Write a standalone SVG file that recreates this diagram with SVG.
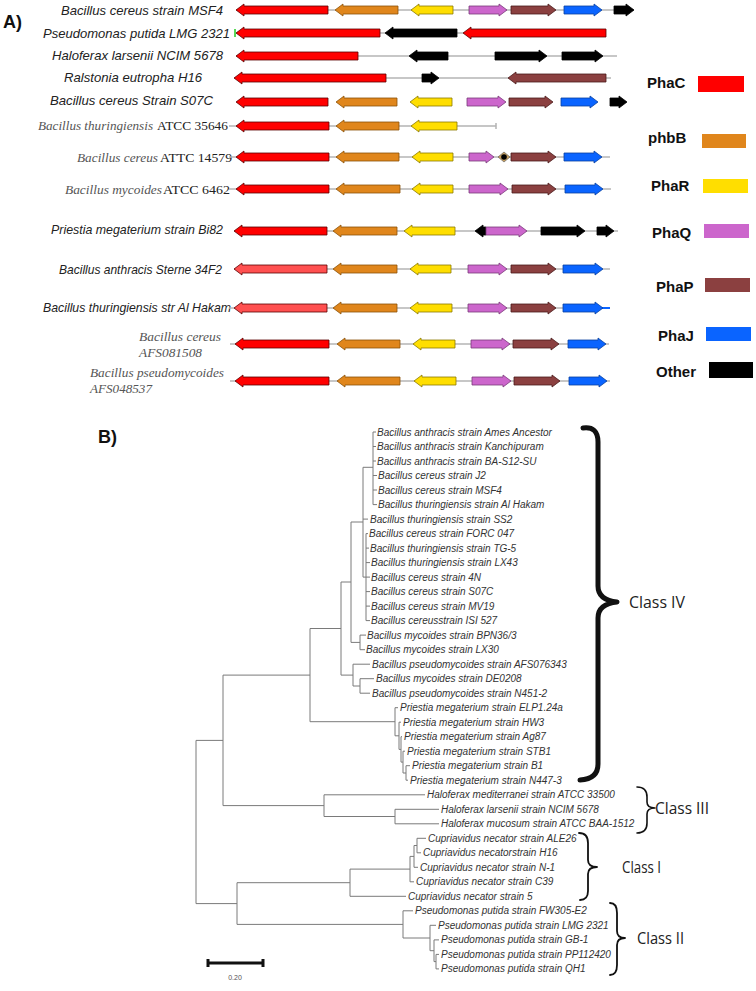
<svg xmlns="http://www.w3.org/2000/svg" width="756" height="991" viewBox="0 0 756 991">
<style>
.gl{font-family:"Liberation Sans",Arial,sans-serif;font-style:italic;font-size:13px;fill:#222}
.si{font-family:"Liberation Serif","Times New Roman",serif;font-style:italic;font-size:13.5px;fill:#555}
.sr{font-family:"Liberation Serif","Times New Roman",serif;font-size:13.5px;fill:#222}
.lg{font-family:"Liberation Sans",Arial,sans-serif;font-weight:bold;font-size:15px;fill:#111}
.pl{font-family:"Liberation Sans",Arial,sans-serif;font-weight:bold;font-size:18px;fill:#111}
.tl{font-family:"Liberation Sans",Arial,sans-serif;font-style:italic;font-size:10px;fill:#333}
.cl{font-family:"Open Sans","Liberation Sans",sans-serif;font-size:17px;fill:#222}
.ln{stroke:#b4b4b4;stroke-width:1.5;fill:none}
.r{fill:#ff0000;stroke:#5a0000;stroke-width:0.8}
.rl{fill:#ff5050;stroke:#5a0000;stroke-width:0.8}
.o{fill:#e0861c;stroke:#8a5208;stroke-width:0.8}
.y{fill:#ffde00;stroke:#8a7a00;stroke-width:0.8}
.p{fill:#cc66cc;stroke:#7a3a7a;stroke-width:0.8}
.b{fill:#8b4040;stroke:#4a1a1a;stroke-width:0.8}
.j{fill:#0a64ff;stroke:#0840a0;stroke-width:0.8}
.k{fill:#000;stroke:#000;stroke-width:0.8}
.tr{stroke:#7a7a7a;stroke-width:1;fill:none}
.br{stroke:#111;fill:none;stroke-linecap:round;stroke-linejoin:round}
</style>
<rect width="756" height="991" fill="#fff"/>
<text class="pl" x="3" y="28">A)</text>
<text class="pl" x="98" y="443">B)</text>

<g id="row1">
<text class="gl" x="61" y="14.5" textLength="162" lengthAdjust="spacingAndGlyphs">Bacillus cereus strain MSF4</text>
<path class="ln" d="M236 10H634"/>
<path class="r" d="M236 10l8-6v2h84v8h-84v2z"/>
<path class="o" d="M335 10l8-6v2h55v8h-55v2z"/>
<path class="y" d="M411 10l8-6v2h34v8h-34v2z"/>
<path class="p" d="M469 6h30v-2l8 6-8 6v-2h-30z"/>
<path class="b" d="M511 6h37v-2l8 6-8 6v-2h-37z"/>
<path class="j" d="M564 6h30v-2l8 6-8 6v-2h-30z"/>
<path class="k" d="M614 6h12v-2l8 6-8 6v-2h-12z"/>
</g>
<g id="row2">
<text class="gl" x="43" y="37.5" textLength="187" lengthAdjust="spacingAndGlyphs">Pseudomonas putida LMG 2321</text>
<path class="ln" d="M236 33H606"/>
<path d="M235 29V37" stroke="#22cc22" stroke-width="1.5"/>
<path class="r" d="M236 33l8-6v2h136v8h-136v2z"/>
<path class="k" d="M385 33l8-6v2h64v8h-64v2z"/>
<path class="r" d="M463 33l8-6v2h135v8h-135v2z"/>
</g>
<g id="row3">
<text class="gl" x="52" y="59.5" textLength="171" lengthAdjust="spacingAndGlyphs">Haloferax larsenii NCIM 5678</text>
<path class="ln" d="M236 56H617"/>
<path class="r" d="M236 56l8-6v2h114v8h-114v2z"/>
<path class="k" d="M409 56l8-6v2h31v8h-31v2z"/>
<path class="k" d="M495 52h44v-2l8 6-8 6v-2h-44z"/>
<path class="k" d="M562 52h33v-2l8 6-8 6v-2h-33z"/>
</g>
<g id="row4">
<text class="gl" x="64" y="81.5" textLength="138" lengthAdjust="spacingAndGlyphs">Ralstonia eutropha H16</text>
<path class="ln" d="M234 78H611"/>
<path class="r" d="M234 78l8-6v2h144v8h-144v2z"/>
<path class="k" d="M422 74h9v-2l8 6-8 6v-2h-9z"/>
<path class="b" d="M508 78l8-6v2h90v8h-90v2z"/>
</g>
<g id="row5">
<text class="gl" x="50" y="104.5" textLength="163" lengthAdjust="spacingAndGlyphs">Bacillus cereus Strain S07C</text>
<path class="r" d="M236 102l8-6v2h84v8h-84v2z"/>
<path class="o" d="M336 102l8-6v2h53v8h-53v2z"/>
<path class="y" d="M410 102l8-6v2h34v8h-34v2z"/>
<path class="p" d="M467 98h31v-2l8 6-8 6v-2h-31z"/>
<path class="b" d="M509 98h36v-2l8 6-8 6v-2h-36z"/>
<path class="j" d="M561 98h29v-2l8 6-8 6v-2h-29z"/>
<path class="k" d="M610 98h9v-2l8 6-8 6v-2h-9z"/>
</g>
<g id="row6">
<text class="si" x="38" y="129.5" textLength="115" lengthAdjust="spacingAndGlyphs">Bacillus thuringiensis</text>
<text class="sr" x="157" y="129.5" textLength="71" lengthAdjust="spacingAndGlyphs">ATCC 35646</text>
<path class="ln" d="M229 126H496M496 123V129"/>
<path class="r" d="M236 126l8-6v2h85v8h-85v2z"/>
<path class="o" d="M336 126l8-6v2h55v8h-55v2z"/>
<path class="y" d="M411 126l8-6v2h38v8h-38v2z"/>
</g>
<g id="row7">
<text class="si" x="77" y="161.5" textLength="81" lengthAdjust="spacingAndGlyphs">Bacillus cereus</text>
<text class="sr" x="160" y="161.5" textLength="72" lengthAdjust="spacingAndGlyphs">ATTC 14579</text>
<path class="ln" d="M229 157H610"/>
<path class="r" d="M236 157l8-6v2h85v8h-85v2z"/>
<path class="o" d="M336 157l8-6v2h55v8h-55v2z"/>
<path class="y" d="M412 157l8-6v2h33v8h-33v2z"/>
<path class="p" d="M469 153h17v-2l8 6-8 6v-2h-17z"/>
<path d="M498 157l6-5 6 5-6 5z" fill="#c8a060" stroke="#555" stroke-width="0.6"/>
<circle cx="504" cy="157" r="2.8" fill="#000"/>
<path class="b" d="M511 153h37v-2l8 6-8 6v-2h-37z"/>
<path class="j" d="M564 153h30v-2l8 6-8 6v-2h-30z"/>
</g>
<g id="row8">
<text class="si" x="65" y="193.5" textLength="97" lengthAdjust="spacingAndGlyphs">Bacillus mycoides</text>
<text class="sr" x="163" y="193.5" textLength="67" lengthAdjust="spacingAndGlyphs">ATCC 6462</text>
<path class="ln" d="M229 189H611"/>
<path class="r" d="M236 189l8-6v2h85v8h-85v2z"/>
<path class="o" d="M336 189l8-6v2h56v8h-56v2z"/>
<path class="y" d="M412 189l8-6v2h33v8h-33v2z"/>
<path class="p" d="M469 185h31v-2l8 6-8 6v-2h-31z"/>
<path class="b" d="M512 185h36v-2l8 6-8 6v-2h-36z"/>
<path class="j" d="M565 185h30v-2l8 6-8 6v-2h-30z"/>
</g>
<g id="row9">
<text class="gl" x="51" y="234" textLength="172" lengthAdjust="spacingAndGlyphs">Priestia megaterium strain Bi82</text>
<path class="ln" d="M234 231H618"/>
<path class="r" d="M234 231l8-6v2h85v8h-85v2z"/>
<path class="o" d="M333 231l8-6v2h56v8h-56v2z"/>
<path class="y" d="M404 231l8-6v2h43v8h-43v2z"/>
<path class="k" d="M475 231l8-6v2h3v8h-3v2z"/>
<path class="p" d="M486 227h33v-2l8 6-8 6v-2h-33z"/>
<path class="k" d="M541 227h36v-2l8 6-8 6v-2h-36z"/>
<path class="k" d="M597 227h9v-2l8 6-8 6v-2h-9z"/>
</g>
<g id="row10">
<text class="gl" x="59" y="274" textLength="163" lengthAdjust="spacingAndGlyphs">Bacillus anthracis Sterne 34F2</text>
<path class="ln" d="M234 269H610"/>
<path class="rl" d="M234 269l8-6v2h85v8h-85v2z"/>
<path class="o" d="M333 269l8-6v2h56v8h-56v2z"/>
<path class="y" d="M410 269l8-6v2h33v8h-33v2z"/>
<path class="p" d="M468 265h31v-2l8 6-8 6v-2h-31z"/>
<path class="b" d="M511 265h37v-2l8 6-8 6v-2h-37z"/>
<path class="j" d="M563 265h32v-2l8 6-8 6v-2h-32z"/>
</g>
<g id="row11">
<text class="gl" x="43" y="312" textLength="188" lengthAdjust="spacingAndGlyphs">Bacillus thuringiensis str Al Hakam</text>
<path class="ln" d="M229 308H603"/>
<path d="M600 308H610" stroke="#0a64ff" stroke-width="2"/>
<path class="rl" d="M234 308l8-6v2h85v8h-85v2z"/>
<path class="o" d="M333 308l8-6v2h56v8h-56v2z"/>
<path class="y" d="M410 308l8-6v2h34v8h-34v2z"/>
<path class="p" d="M468 304h31v-2l8 6-8 6v-2h-31z"/>
<path class="b" d="M511 304h37v-2l8 6-8 6v-2h-37z"/>
<path class="j" d="M563 304h32v-2l8 6-8 6v-2h-32z"/>
</g>
<g id="row12">
<text class="si" x="139" y="341" textLength="82" lengthAdjust="spacingAndGlyphs">Bacillus cereus</text>
<text class="si" x="139" y="357" textLength="63" lengthAdjust="spacingAndGlyphs">AFS081508</text>
<path class="ln" d="M230 344H609"/>
<path class="r" d="M235 344l8-6v2h86v8h-86v2z"/>
<path class="o" d="M337 344l8-6v2h55v8h-55v2z"/>
<path class="y" d="M413 344l8-6v2h34v8h-34v2z"/>
<path class="p" d="M471 340h31v-2l8 6-8 6v-2h-31z"/>
<path class="b" d="M513 340h38v-2l8 6-8 6v-2h-38z"/>
<path class="j" d="M568 340h30v-2l8 6-8 6v-2h-30z"/>
</g>
<g id="row13">
<text class="si" x="90" y="377" textLength="134" lengthAdjust="spacingAndGlyphs">Bacillus pseudomycoides</text>
<text class="si" x="90" y="393" textLength="62" lengthAdjust="spacingAndGlyphs">AFS048537</text>
<path class="ln" d="M230 381H610"/>
<path class="r" d="M235 381l8-6v2h86v8h-86v2z"/>
<path class="o" d="M337 381l8-6v2h55v8h-55v2z"/>
<path class="y" d="M414 381l8-6v2h34v8h-34v2z"/>
<path class="p" d="M472 377h31v-2l8 6-8 6v-2h-31z"/>
<path class="b" d="M514 377h38v-2l8 6-8 6v-2h-38z"/>
<path class="j" d="M569 377h30v-2l8 6-8 6v-2h-30z"/>
</g>

<g id="legend">
<text class="lg" x="647" y="88">PhaC</text><rect x="698" y="76" width="46" height="16" fill="#ff0000"/>
<text class="lg" x="648" y="143">phbB</text><rect x="702" y="134" width="44" height="14" fill="#e0861c"/>
<text class="lg" x="651" y="191">PhaR</text><rect x="703" y="179" width="45" height="14" fill="#ffde00"/>
<text class="lg" x="652" y="238">PhaQ</text><rect x="704" y="224" width="45" height="14" fill="#cc66cc"/>
<text class="lg" x="656" y="292">PhaP</text><rect x="705" y="278" width="45" height="14" fill="#8b4040"/>
<text class="lg" x="658" y="341">PhaJ</text><rect x="706" y="327" width="45" height="14" fill="#0a64ff"/>
<text class="lg" x="656" y="377">Other</text><rect x="709" y="362" width="44" height="16" fill="#000"/>
</g>

<g id="tree-branches">
<path class="tr" d="M196 740.4V903.6M196 740.4H223M223 675.1V805.6M223 675.1H310M223 805.6H324
M310 628.5V721.7M310 628.5H341M310 721.7H395
M341 582V675.1M341 582H351M341 675.1H353
M351 522V642.4M351 522H363M351 642.4H360
M363 467.3V577.1M363 467.3H373M363 519.1H368M363 577.1H366
M373 432V504.6M373 432H376M373 446.5H376M373 461H376M373 475.5H377M373 490H377M373 504.6H377
M366 533.6V620.6M366 533.6H368M366 548.1H369M366 562.6H370M366 577.1H370M366 591.6H370M366 606.1H370M366 620.6H370
M360 635.1V649.7M360 635.1H366M360 649.7H365
M353 664.2V686M353 664.2H370M353 686H360
M360 678.7V693.2M360 678.7H374M360 693.2H370
M395 707.7V735.8M395 707.7H398M395 735.8H399
M399 722.2V749.4M399 722.2H401M399 749.4H401
M401 736.7V762.1M401 736.7H402M401 762.1H403
M403 751.2V773M403 751.2H405M403 773H406
M406 765.7V780.2M406 765.7H410M406 780.2H408
M324 794.8V816.5M324 794.8H425M324 816.5H395
M395 809.3V823.8M395 809.3H439M395 823.8H439
M196 903.6H237M237 882.7V924.4M237 882.7H350M237 924.4H403
M350 869.1V896.3M350 869.1H410M350 896.3H406
M410 856.4V881.8M410 856.4H414M410 881.8H414
M414 845.5V867.3M414 845.5H417M414 867.3H418
M417 838.3V852.8M417 838.3H426M417 852.8H421
M403 910.8V938M403 910.8H413M403 938H430
M430 925.3V950.7M430 925.3H436M430 950.7H434
M434 939.9V961.6M434 939.9H439M434 961.6H436
M436 954.4V968.9M436 954.4H439M436 968.9H439"/>
<path d="M207 963H264M208 959V967M263 959V967" stroke="#111" stroke-width="3" fill="none"/>
<text x="235" y="980" text-anchor="middle" font-family="Liberation Sans, Arial, sans-serif" font-size="7" fill="#555">0.20</text>
</g>

<g id="leaves">
<g id="t0"><text class="tl" x="377" y="435.5">Bacillus anthracis strain Ames Ancestor</text></g>
<g id="t1"><text class="tl" x="377" y="450">Bacillus anthracis strain Kanchipuram</text></g>
<g id="t2"><text class="tl" x="377" y="464.5">Bacillus anthracis strain BA-S12-SU</text></g>
<g id="t3"><text class="tl" x="378" y="479">Bacillus cereus strain J2</text></g>
<g id="t4"><text class="tl" x="378" y="493.5">Bacillus cereus strain MSF4</text></g>
<g id="t5"><text class="tl" x="378" y="508.1">Bacillus thuringiensis strain Al Hakam</text></g>
<g id="t6"><text class="tl" x="370" y="522.6">Bacillus thuringiensis strain SS2</text></g>
<g id="t7"><text class="tl" x="369" y="537.1">Bacillus cereus strain FORC 047</text></g>
<g id="t8"><text class="tl" x="370" y="551.6">Bacillus thuringiensis strain TG-5</text></g>
<g id="t9"><text class="tl" x="371" y="566.1">Bacillus thuringiensis strain LX43</text></g>
<g id="t10"><text class="tl" x="371" y="580.6">Bacillus cereus strain 4N</text></g>
<g id="t11"><text class="tl" x="371" y="595.1">Bacillus cereus strain S07C</text></g>
<g id="t12"><text class="tl" x="371" y="609.6">Bacillus cereus strain MV19</text></g>
<g id="t13"><text class="tl" x="371" y="624.1">Bacillus cereusstrain ISI 527</text></g>
<g id="t14"><text class="tl" x="367" y="638.6">Bacillus mycoides strain BPN36/3</text></g>
<g id="t15"><text class="tl" x="366" y="653.2">Bacillus mycoides strain LX30</text></g>
<g id="t16"><text class="tl" x="372" y="667.7">Bacillus pseudomycoides strain AFS076343</text></g>
<g id="t17"><text class="tl" x="376" y="682.2">Bacillus mycoides strain DE0208</text></g>
<g id="t18"><text class="tl" x="372" y="696.7">Bacillus pseudomycoides strain N451-2</text></g>
<g id="t19"><text class="tl" x="400" y="711.2">Priestia megaterium strain ELP1.24a</text></g>
<g id="t20"><text class="tl" x="403" y="725.7">Priestia megaterium strain HW3</text></g>
<g id="t21"><text class="tl" x="404" y="740.2">Priestia megaterium strain Ag87</text></g>
<g id="t22"><text class="tl" x="407" y="754.7">Priestia megaterium strain STB1</text></g>
<g id="t23"><text class="tl" x="412" y="769.2">Priestia megaterium strain B1</text></g>
<g id="t24"><text class="tl" x="410" y="783.7">Priestia megaterium strain N447-3</text></g>
<g id="t25"><text class="tl" x="427" y="798.3">Haloferax mediterranei strain ATCC 33500</text></g>
<g id="t26"><text class="tl" x="441" y="812.8">Haloferax larsenii strain NCIM 5678</text></g>
<g id="t27"><text class="tl" x="441" y="827.3">Haloferax mucosum strain ATCC BAA-1512</text></g>
<g id="t28"><text class="tl" x="428" y="841.8">Cupriavidus necator strain ALE26</text></g>
<g id="t29"><text class="tl" x="423" y="856.3">Cupriavidus necatorstrain H16</text></g>
<g id="t30"><text class="tl" x="420" y="870.8">Cupriavidus necator strain N-1</text></g>
<g id="t31"><text class="tl" x="416" y="885.3">Cupriavidus necator strain C39</text></g>
<g id="t32"><text class="tl" x="408" y="899.8">Cupriavidus necator strain 5</text></g>
<g id="t33"><text class="tl" x="415" y="914.3">Pseudomonas putida strain FW305-E2</text></g>
<g id="t34"><text class="tl" x="438" y="928.8">Pseudomonas putida strain LMG 2321</text></g>
<g id="t35"><text class="tl" x="441" y="943.4">Pseudomonas putida strain GB-1</text></g>
<g id="t36"><text class="tl" x="441" y="957.9">Pseudomonas putida strain PP112420</text></g>
<g id="t37"><text class="tl" x="441" y="972.4">Pseudomonas putida strain QH1</text></g>
</g>

<g id="classIV">
<path class="br" stroke-width="5" d="M583 428Q598 426 598 442V586Q598 600 617 602Q598 604 598 618V764Q598 779 580 780"/>
<text class="cl" x="629" y="608" textLength="56" lengthAdjust="spacingAndGlyphs">Class IV</text>
</g>
<g id="classIII">
<path class="br" stroke-width="1.6" d="M637 787Q647 787 647 797V802Q647 808 655 808Q647 808 647 814V823Q647 833 637 833"/>
<text class="cl" x="655" y="814" textLength="54" lengthAdjust="spacingAndGlyphs">Class III</text>
</g>
<g id="classI">
<path class="br" stroke-width="1.8" d="M579 833Q588 833 588 843V860Q588 867 597 867Q588 867 588 874V891Q588 900 580 900"/>
<text class="cl" x="622" y="873" textLength="39" lengthAdjust="spacingAndGlyphs">Class I</text>
</g>
<g id="classII">
<path class="br" stroke-width="1.8" d="M610 903Q617 903 617 913V931Q617 938 625 938Q617 938 617 945V965Q617 975 610 975"/>
<text class="cl" x="637" y="944" textLength="47" lengthAdjust="spacingAndGlyphs">Class II</text>
</g>
</svg>
